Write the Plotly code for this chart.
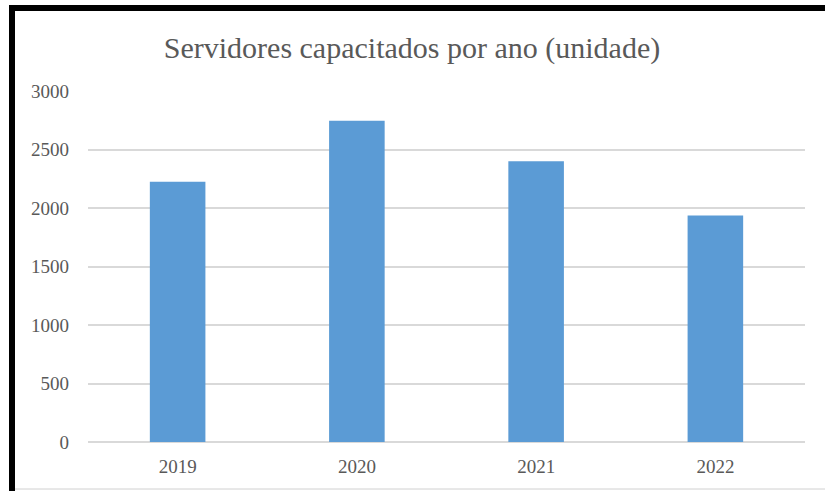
import plotly.graph_objects as go

anos = ['2019', '2020', '2021', '2022']
servidores = [2225, 2745, 2400, 1935]
ticks_y = [0, 500, 1000, 1500, 2000, 2500, 3000]

W, H = 825, 491
ml, mr, mt, mb = 88, 20, 91, 49
pw, ph = W - ml - mr, H - mt - mb
serif = 'Liberation Serif, Times New Roman, serif'


def px(x):
    return (x - ml) / pw


def py_(y):
    return (H - mb - y) / ph


fig = go.Figure(go.Bar(
    x=anos,
    y=servidores,
    marker=dict(color='#5b9bd5', line=dict(width=0)),
    width=0.31,
))

fig.update_layout(
    width=W, height=H,
    margin=dict(l=ml, r=mr, t=mt, b=mb),
    paper_bgcolor='white',
    plot_bgcolor='white',
    showlegend=False,
    font=dict(family=serif, color='#595959'),
    title=dict(
        text='Servidores capacitados por ano (unidade)',
        x=412 / W, xanchor='center',
        y=1 - 47 / H, yanchor='middle',
        font=dict(size=30, color='#595959', family=serif),
    ),
    xaxis=dict(
        showgrid=False, showline=False, ticks='',
        ticklabelstandoff=11,
        tickfont=dict(size=19, color='#595959', family=serif),
    ),
    yaxis=dict(
        range=[0, 3000],
        tickvals=ticks_y,
        showgrid=True, gridcolor='#d9d9d9', gridwidth=1.5,
        zeroline=True, zerolinecolor='#d9d9d9', zerolinewidth=1.5,
        showline=False, ticks='',
        ticklabelstandoff=18,
        tickfont=dict(size=19, color='#595959', family=serif),
    ),
    shapes=[
        # black frame on top and left
        dict(type='line', xref='paper', yref='paper',
             x0=px(9), x1=px(W + 5), y0=py_(8), y1=py_(8),
             line=dict(color='black', width=6)),
        dict(type='line', xref='paper', yref='paper',
             x0=px(12), x1=px(12), y0=py_(5), y1=py_(H + 5),
             line=dict(color='black', width=6)),
        # thin grey bottom edge
        dict(type='line', xref='paper', yref='paper',
             x0=px(15), x1=px(W), y0=py_(489), y1=py_(489),
             line=dict(color='#d0d0d0', width=1)),
    ],
)

fig.write_html("out.html", config={'displayModeBar': False},
               post_script="document.body.style.margin='0';document.body.style.overflow='hidden';")
